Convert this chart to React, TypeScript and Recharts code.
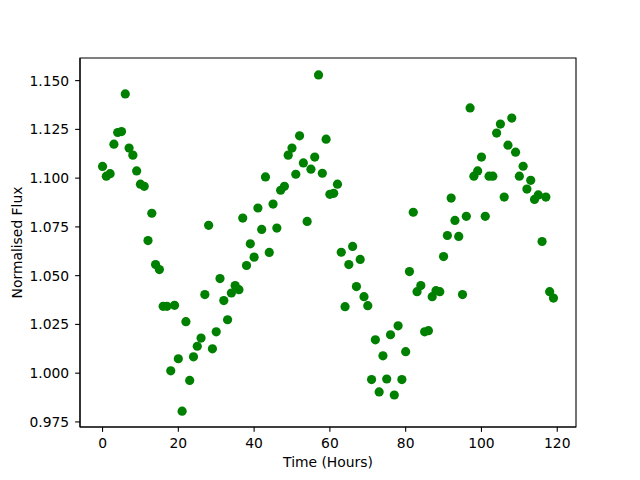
import React from 'react';
import { ScatterChart, Scatter, XAxis, YAxis, ReferenceArea } from 'recharts';

const hours: number[] = Array.from({ length: 120 }, (_, i) => i);

const flux: number[] = [
  1.106, 1.101, 1.1023, 1.1174, 1.1234, 1.1239, 1.1432, 1.1154, 1.1118, 1.1037,
  1.0969, 1.0958, 1.068, 1.082, 1.0557, 1.0531, 1.0343, 1.0343, 1.0012, 1.0348,
  1.0074, 0.9805, 1.0264, 0.9963, 1.0084, 1.0138, 1.018, 1.0403, 1.0758, 1.0125,
  1.0212, 1.0485, 1.0372, 1.0274, 1.0411, 1.0449, 1.0428, 1.0795, 1.0552, 1.0663,
  1.0595, 1.0847, 1.0737, 1.1006, 1.0619, 1.0867, 1.0744, 1.0938, 1.0958, 1.1118,
  1.1154, 1.102, 1.1217, 1.1078, 1.0778, 1.1046, 1.1108, 1.1529, 1.1025, 1.12,
  1.0917, 1.0922, 1.0969, 1.062, 1.0341, 1.0557, 1.065, 1.0444, 1.0583, 1.0392,
  1.0346, 0.9967, 1.0171, 0.9904, 1.0089, 0.997, 1.0197, 0.9888, 1.0243, 0.9967,
  1.011, 1.0521, 1.0825, 1.0418, 1.0449, 1.0212, 1.0218, 1.0392, 1.0423, 1.0418,
  1.0598, 1.0706, 1.0898, 1.0783, 1.0701, 1.0403, 1.0804, 1.136, 1.101, 1.1037,
  1.1108, 1.0804, 1.101, 1.101, 1.1231, 1.1277, 1.0903, 1.1169, 1.1308, 1.1133,
  1.101, 1.1061, 1.0944, 1.0989, 1.0891, 1.0914, 1.0675, 1.0903, 1.0418, 1.0385,
];

const xTicks: number[] = [0, 20, 40, 60, 80, 100, 120];
const yTicks: number[] = [0.975, 1.0, 1.025, 1.05, 1.075, 1.1, 1.125, 1.15];
const xDomain: [number, number] = [-5.95, 124.95];
const yDomain: [number, number] = [0.9724, 1.1616];

const data = hours.map((h, i) => ({ hours: h, flux: flux[i] }));

const FONT = 'DejaVu Sans';
const FS = 13.89;

const Dot = (props: any) => (
  <circle cx={props.cx} cy={props.cy} r={4.6} fill="#008000" />
);

export default function App() {
  return (
    <div style={{ position: 'absolute', left: 0, top: 0, background: '#fff' }}>
      <ScatterChart
        width={640}
        height={480}
        margin={{ top: 58, right: 64, bottom: 8, left: 0 }}
      >
        <XAxis
          type="number"
          dataKey="hours"
          domain={xDomain}
          ticks={xTicks}
          allowDataOverflow
          height={45}
          tickSize={4.86}
          tickMargin={6.5}
          axisLine={{ stroke: '#000', strokeWidth: 1.1 }}
          tickLine={{ stroke: '#000', strokeWidth: 1.1 }}
          tick={{ fill: '#000', fontSize: FS, fontFamily: FONT }}
          label={{
            content: (p: any) => {
              const vb = p.viewBox;
              return (
                <text
                  x={vb.x + vb.width / 2}
                  y={467}
                  textAnchor="middle"
                  fontSize={FS}
                  fontFamily={FONT}
                  fill="#000"
                >
                  Time (Hours)
                </text>
              );
            },
          }}
        />
        <YAxis
          type="number"
          dataKey="flux"
          domain={yDomain}
          ticks={yTicks}
          allowDataOverflow
          width={80}
          tickSize={4.86}
          tickMargin={6}
          tickFormatter={(v: number) => v.toFixed(3)}
          axisLine={{ stroke: '#000', strokeWidth: 1.1 }}
          tickLine={{ stroke: '#000', strokeWidth: 1.1 }}
          tick={{ fill: '#000', fontSize: FS, fontFamily: FONT }}
          label={{
            content: (p: any) => {
              const vb = p.viewBox;
              const cy = vb.y + vb.height / 2;
              return (
                <text
                  x={0}
                  y={0}
                  transform={`translate(22, ${cy}) rotate(-90)`}
                  textAnchor="middle"
                  fontSize={FS}
                  fontFamily={FONT}
                  fill="#000"
                >
                  Normalised Flux
                </text>
              );
            },
          }}
        />
        <Scatter
          data={data}
          fill="#008000"
          shape={Dot}
          isAnimationActive={false}
        />
        <ReferenceArea
          x1={xDomain[0]}
          x2={xDomain[1]}
          y1={yDomain[0]}
          y2={yDomain[1]}
          fill="none"
          fillOpacity={0}
          stroke="#000"
          strokeWidth={1.1}
          ifOverflow="visible"
        />
      </ScatterChart>
    </div>
  );
}
